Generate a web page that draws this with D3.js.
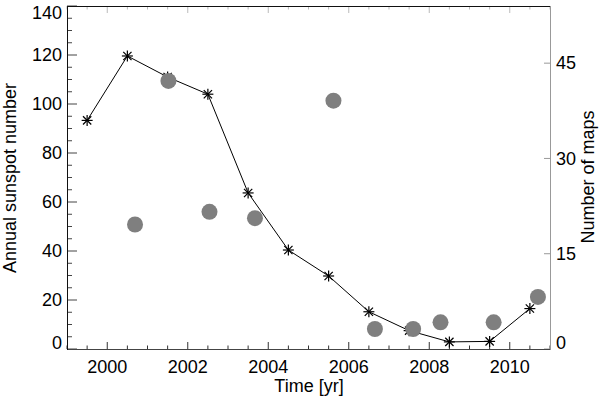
<!DOCTYPE html>
<html><head><meta charset="utf-8">
<script src="https://cdn.jsdelivr.net/npm/d3@7"></script>
<style>html,body{margin:0;padding:0;background:#fff}svg{display:block}text{font-family:"Liberation Sans",Arial,Helvetica,sans-serif}</style>
</head><body>
<svg id="chart" width="600" height="397"></svg>
<script>
// ---- data ----
const years = [1999, 2000, 2001, 2002, 2003, 2004, 2005, 2006, 2007, 2008, 2009, 2010];
const sunspot = [93.3, 119.6, 111.0, 104.0, 63.7, 40.4, 29.8, 15.2, 7.5, 2.9, 3.1, 16.5];
const mapTimes = [2000.69, 2001.52, 2002.54, 2003.67, 2005.62, 2006.65, 2007.6, 2008.28, 2009.6, 2010.7];
const mapCounts = [19.6, 42.2, 21.6, 20.6, 39.1, 3.15, 3.15, 4.2, 4.2, 8.2];
const xTicks = [2000, 2002, 2004, 2006, 2008, 2010];
const yLeftTicks = [0, 20, 40, 60, 80, 100, 120, 140];
const yRightTicks = [0, 15, 30, 45];

const svg = d3.select("#chart");
const L = 67, R = 550, T = 6, B = 349;
const x = d3.scaleLinear().domain([1999, 2011]).range([L, R]);
const y = d3.scaleLinear().domain([0, 140]).range([B, T]);
const y2 = d3.scaleLinear().domain([0, 54]).range([B, T]);

// minor ticks
const xMinor = d3.range(1999, 2011.01, 0.5);
const yMinor = d3.range(0, 140.01, 5);

const g = svg.append("g");
// bottom axis ticks
g.selectAll(".xb").data(xMinor).enter().append("line")
  .attr("x1", d => x(d)).attr("x2", d => x(d))
  .attr("y1", B).attr("y2", d => B - (Math.abs(d % 2) < 1e-6 ? 7 : 3.5))
  .attr("stroke", "#333").attr("stroke-width", 1);
// top axis ticks (faint)
g.selectAll(".xt").data(xMinor).enter().append("line")
  .attr("x1", d => x(d)).attr("x2", d => x(d))
  .attr("y1", T).attr("y2", d => T + (Math.abs(d % 2) < 1e-6 ? 7 : 3.5))
  .attr("stroke", "#bbb").attr("stroke-width", 1);
// left ticks
g.selectAll(".yl").data(yMinor).enter().append("line")
  .attr("y1", d => y(d)).attr("y2", d => y(d))
  .attr("x1", L).attr("x2", d => L + (d % 20 === 0 ? 10 : 5))
  .attr("stroke", "#444").attr("stroke-width", 1);
// right ticks
g.selectAll(".yr").data(yRightTicks).enter().append("line")
  .attr("y1", d => y2(d)).attr("y2", d => y2(d))
  .attr("x1", R).attr("x2", R - 6)
  .attr("stroke", "#999").attr("stroke-width", 1);

// frame
g.append("line").attr("x1", L).attr("x2", R).attr("y1", T + 0.5).attr("y2", T + 0.5).attr("stroke", "#111");
g.append("line").attr("x1", L).attr("x2", R).attr("y1", B + 0.5).attr("y2", B + 0.5).attr("stroke", "#444");
g.append("line").attr("x1", L + 0.5).attr("x2", L + 0.5).attr("y1", T).attr("y2", B + 1).attr("stroke", "#111");
g.append("line").attr("x1", R + 0.5).attr("x2", R + 0.5).attr("y1", T).attr("y2", B + 1).attr("stroke", "#999");

// tick labels
const fs = 18;
svg.selectAll(".lx").data(xTicks).enter().append("text")
  .attr("x", d => x(d)).attr("y", 373).attr("text-anchor", "middle")
  .attr("font-size", fs).text(d => d);
svg.selectAll(".ly").data(yLeftTicks).enter().append("text")
  .attr("x", 62).attr("y", d => y(d) + (d === 140 ? 6.5 : d === 0 ? -6 : 0))
  .attr("dy", "0.35em").attr("text-anchor", "end")
  .attr("font-size", fs).text(d => d);
svg.selectAll(".lr").data(yRightTicks).enter().append("text")
  .attr("x", 556).attr("y", d => y2(d) + (d === 0 ? -6 : 0))
  .attr("dy", "0.35em").attr("text-anchor", "start")
  .attr("font-size", fs).text(d => d);

// titles
svg.append("text").attr("x", 309).attr("y", 392).attr("text-anchor", "middle")
  .attr("font-size", fs).text("Time [yr]");
svg.append("text").attr("transform", "translate(16,178) rotate(-90)")
  .attr("text-anchor", "middle").attr("font-size", fs).text("Annual sunspot number");
svg.append("text").attr("transform", "translate(594,177) rotate(-90)")
  .attr("text-anchor", "middle").attr("font-size", fs).text("Number of maps");

// sunspot line
const pts = years.map((yr, i) => [yr + 0.5, sunspot[i]]);
svg.append("path").datum(pts)
  .attr("d", d3.line().x(d => x(d[0])).y(d => y(d[1])))
  .attr("fill", "none").attr("stroke", "#000").attr("stroke-width", 1);
// asterisks
const s = 5.5, sd = s * 0.75;
const star = svg.selectAll(".star").data(pts).enter().append("g")
  .attr("transform", d => `translate(${x(d[0])},${y(d[1])})`)
  .attr("stroke", "#000").attr("stroke-width", 1.2);
star.append("line").attr("x1", 0).attr("x2", 0).attr("y1", -s).attr("y2", s);
star.append("line").attr("x1", -s).attr("x2", s).attr("y1", 0).attr("y2", 0);
star.append("line").attr("x1", -sd).attr("x2", sd).attr("y1", -sd).attr("y2", sd);
star.append("line").attr("x1", -sd).attr("x2", sd).attr("y1", sd).attr("y2", -sd);

// map counts
svg.selectAll(".dot").data(mapTimes).enter().append("circle")
  .attr("cx", d => x(d)).attr("cy", (d, i) => y2(mapCounts[i]))
  .attr("r", 8).attr("fill", "#7f7f7f");
</script>
</body></html>
